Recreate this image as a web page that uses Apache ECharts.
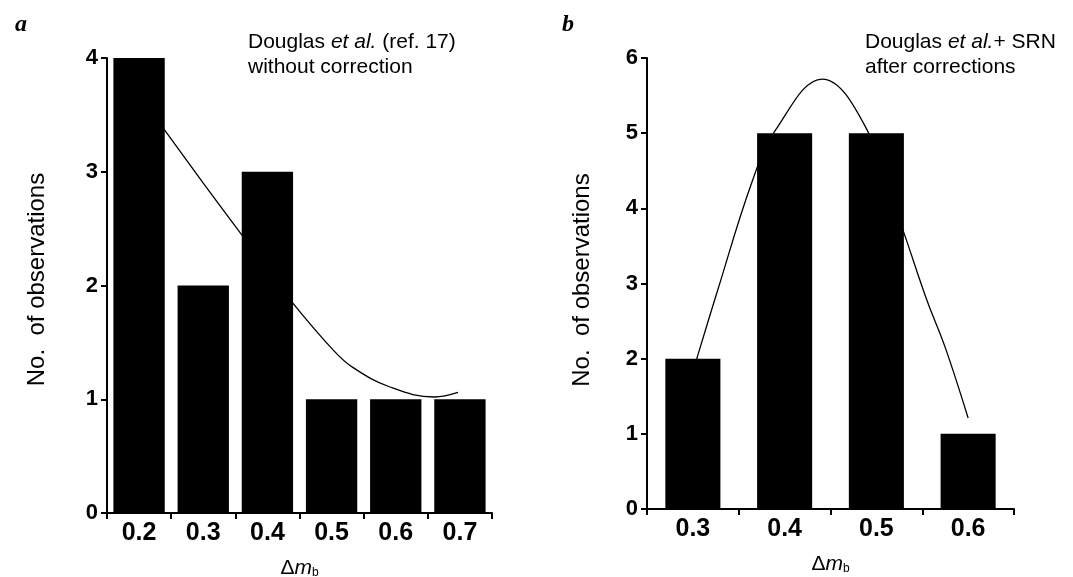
<!DOCTYPE html>
<html>
<head>
<meta charset="utf-8">
<script src="https://cdn.jsdelivr.net/npm/echarts@6/dist/echarts.min.js"></script>
<style>
html,body{margin:0;padding:0;background:#fff;}
#chart{width:1073px;height:577px;}
</style>
</head>
<body>
<div id="chart"></div>
<script>
// Panel a data
var catsA = ['0.2', '0.3', '0.4', '0.5', '0.6', '0.7'];
var countsA = [4, 2, 3, 1, 1, 1];
var fitA = [[0.22, 3.52], [0.30, 2.90], [0.358, 2.46], [0.40, 2.15], [0.439, 1.85], [0.503, 1.43], [0.533, 1.28], [0.59, 1.11], [0.66, 1.02], [0.697, 1.06]];
var ticksA = [0, 1, 2, 3, 4];
// Panel b data
var catsB = ['0.3', '0.4', '0.5', '0.6'];
var countsB = [2, 5, 5, 1];
var fitB = [[0.304, 1.99], [0.326, 2.87], [0.365, 4.37], [0.39, 5.04], [0.441, 5.72], [0.49, 5.04], [0.529, 3.71], [0.555, 2.78], [0.575, 2.15], [0.60, 1.21]];
var ticksB = [0, 1, 2, 3, 4, 5, 6];

var chart = echarts.init(document.getElementById('chart'), null, {renderer: 'canvas'});

var yTickFont = {color: '#000', fontFamily: 'Liberation Sans', fontWeight: 900, fontSize: 22};
var xTickFont = {color: '#000', fontFamily: 'Liberation Sans', fontWeight: 900, fontSize: 25};
var axisLine = {show: true, lineStyle: {color: '#000', width: 2}};
var axisTick = {show: true, length: 6, lineStyle: {color: '#000', width: 2}};
var nameRich = {
  d: {fontSize: 21, fontFamily: 'Liberation Sans', color: '#000'},
  m: {fontStyle: 'italic', fontSize: 21, fontFamily: 'Liberation Sans', color: '#000'},
  s: {fontSize: 12, fontFamily: 'Liberation Sans', color: '#000', verticalAlign: 'bottom', padding: [9, 0, 0, 0]}
};

function catAxis(idx, cats) {
  return {
    type: 'category', gridIndex: idx, data: cats,
    axisLine: axisLine, axisTick: axisTick,
    axisLabel: Object.assign({margin: 8}, xTickFont),
    name: '{d|Δ}{m|m}{s|b}', nameLocation: 'middle', nameGap: 45,
    nameTextStyle: {color: '#000', fontSize: 21, fontFamily: 'Liberation Sans', rich: nameRich},
    splitLine: {show: false}
  };
}
function valAxis(idx, maxV) {
  return {
    type: 'value', gridIndex: idx, min: 0, max: maxV, interval: 1,
    axisLine: axisLine, axisTick: axisTick,
    axisLabel: Object.assign({margin: 9}, yTickFont),
    splitLine: {show: false},
    name: 'No.  of observations', nameLocation: 'middle', nameRotate: 90,
    nameGap: idx === 0 ? 58 : 53,
    nameTextStyle: {color: '#000', fontSize: 24, fontFamily: 'Liberation Sans',
      padding: idx === 0 ? [0, 0, 0, 12] : [0, 0, 0, 7]}
  };
}

var noteStyle = {fontFamily: 'Liberation Sans', fontWeight: 'normal', fontSize: 21, lineHeight: 25, color: '#000',
  rich: {i: {fontStyle: 'italic', fontFamily: 'Liberation Sans', fontSize: 21, lineHeight: 25, color: '#000'}}};

var option = {
  animation: false,
  backgroundColor: '#fff',
  title: [
    {text: 'a', left: 10, top: 8, textStyle: {fontFamily: 'Liberation Serif', fontStyle: 'italic', fontWeight: 'bold', fontSize: 24, color: '#000'}},
    {text: 'b', left: 557, top: 8, textStyle: {fontFamily: 'Liberation Serif', fontStyle: 'italic', fontWeight: 'bold', fontSize: 24, color: '#000'}},
    {text: 'Douglas {i|et al.} (ref. 17)\nwithout correction', left: 248, top: 30, padding: 0, textStyle: noteStyle},
    {text: 'Douglas {i|et al.}+ SRN\nafter corrections', left: 865, top: 30, padding: 0, textStyle: noteStyle}
  ],
  grid: [
    {left: 107, top: 58, width: 385, height: 455, outerBoundsMode: 'none', containLabel: false},
    {left: 647, top: 58, width: 367, height: 451, outerBoundsMode: 'none', containLabel: false}
  ],
  xAxis: [
    catAxis(0, catsA),
    catAxis(1, catsB),
    {type: 'value', gridIndex: 0, min: 0.15, max: 0.75, show: false},
    {type: 'value', gridIndex: 1, min: 0.25, max: 0.65, show: false}
  ],
  yAxis: [valAxis(0, 4), valAxis(1, 6)],
  series: [
    {type: 'line', xAxisIndex: 2, yAxisIndex: 0, data: fitA, smooth: 0.4, showSymbol: false, z: 1,
     lineStyle: {color: '#000', width: 1.3}},
    {type: 'bar', xAxisIndex: 0, yAxisIndex: 0, data: countsA, barCategoryGap: '20%', z: 3,
     itemStyle: {color: '#000'}},
    {type: 'line', xAxisIndex: 3, yAxisIndex: 1, data: fitB, smooth: 0.4, showSymbol: false, z: 1,
     lineStyle: {color: '#000', width: 1.3}},
    {type: 'bar', xAxisIndex: 1, yAxisIndex: 1, data: countsB, barCategoryGap: '40%', z: 3,
     itemStyle: {color: '#000'}}
  ]
};
chart.setOption(option);
</script>
</body>
</html>
